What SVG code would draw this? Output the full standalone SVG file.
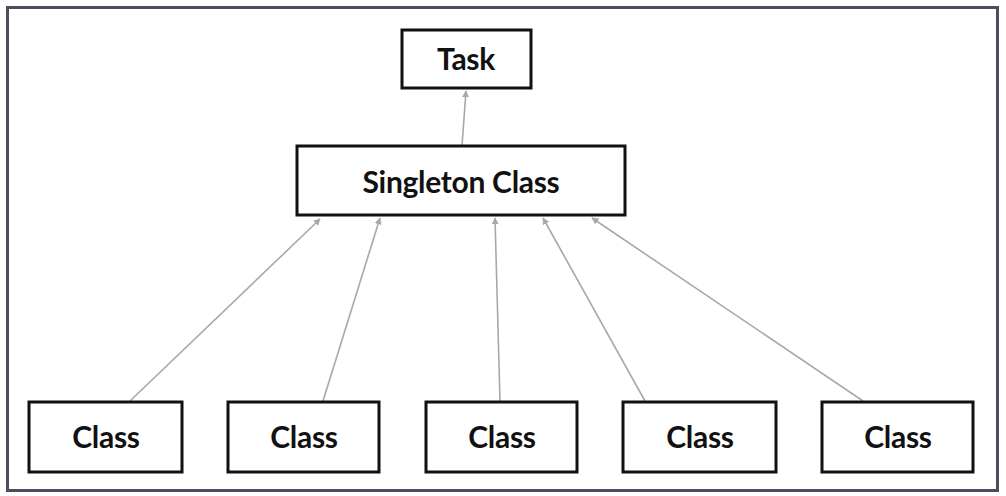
<svg xmlns="http://www.w3.org/2000/svg" width="1006" height="496" viewBox="0 0 1006 496">
<style>
.box{fill:#fff;stroke:#111;stroke-width:3}
.lbl{font-family:Lato,"Open Sans","Liberation Sans",sans-serif;font-weight:bold;font-size:30px;fill:#111;text-anchor:middle;dominant-baseline:central;letter-spacing:-0.3px}
.conn{stroke:#a8a8a8;stroke-width:1.6;fill:none;marker-end:url(#ah)}
</style>
<defs>
<marker id="ah" viewBox="0 0 10 10" refX="9" refY="5" markerWidth="7" markerHeight="7" orient="auto" markerUnits="userSpaceOnUse">
<path d="M0,0 L10,5 L0,10 z" fill="#a8a8a8"/>
</marker>
</defs>
<rect x="0" y="0" width="1006" height="496" fill="#fff"/>
<rect x="7.5" y="7.5" width="990" height="483" fill="#fff" stroke="#4a4f60" stroke-width="3"/>
<g id="connectors">
<line class="conn" x1="462" y1="146" x2="466" y2="91"/>
<line class="conn" x1="130" y1="401" x2="320" y2="219"/>
<line class="conn" x1="323" y1="401" x2="380" y2="218"/>
<line class="conn" x1="500" y1="401" x2="495" y2="218"/>
<line class="conn" x1="645" y1="401" x2="543" y2="218"/>
<line class="conn" x1="863" y1="401" x2="592" y2="218"/>
</g>
<g id="task"><rect class="box" x="402" y="30" width="129" height="58"/><text class="lbl" x="466" y="58">Task</text></g>
<g id="singleton"><rect class="box" x="297" y="146" width="328" height="69"/><text class="lbl" x="461" y="181">Singleton Class</text></g>
<g id="class1"><rect class="box" x="29" y="402" width="153" height="70"/><text class="lbl" x="106" y="436">Class</text></g>
<g id="class2"><rect class="box" x="228" y="402" width="151" height="70"/><text class="lbl" x="304" y="436">Class</text></g>
<g id="class3"><rect class="box" x="426" y="402" width="151" height="70"/><text class="lbl" x="502" y="436">Class</text></g>
<g id="class4"><rect class="box" x="623" y="402" width="153" height="70"/><text class="lbl" x="700" y="436">Class</text></g>
<g id="class5"><rect class="box" x="822" y="402" width="151" height="70"/><text class="lbl" x="898" y="436">Class</text></g>
</svg>
